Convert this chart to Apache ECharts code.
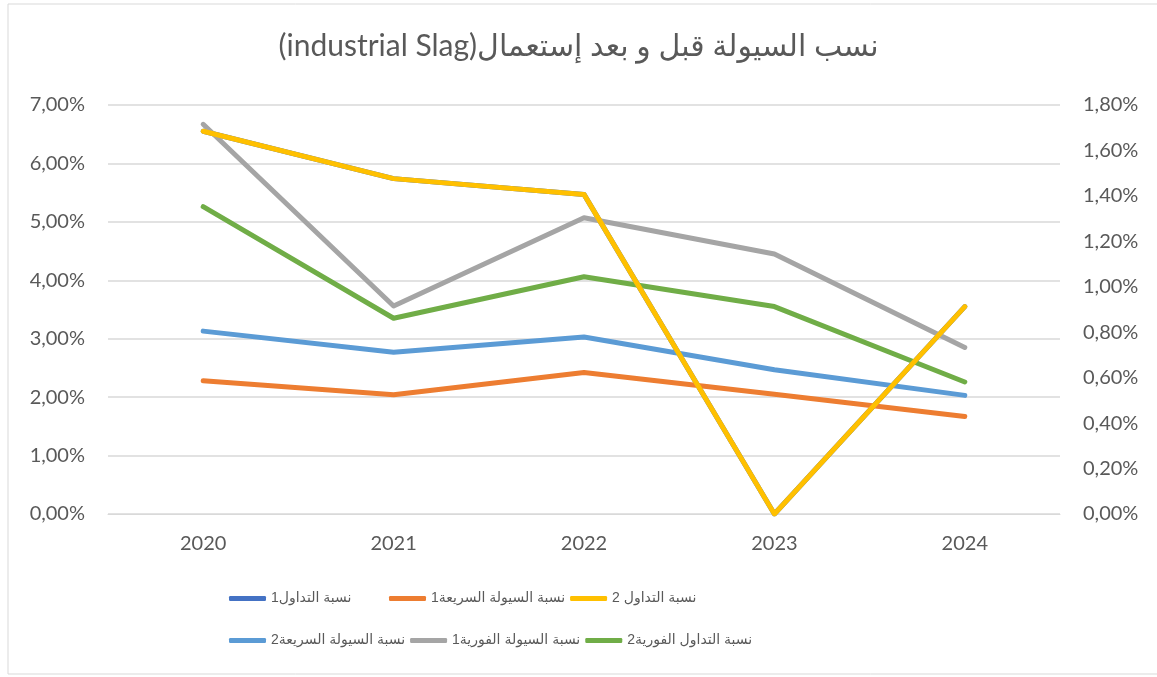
<!DOCTYPE html>
<html>
<head>
<meta charset="utf-8">
<script src="https://cdn.jsdelivr.net/npm/echarts@6/dist/echarts.min.js"></script>
<style>
  html, body { margin: 0; padding: 0; background: #fff; }
  #chart { width: 1157px; height: 677px; }
</style>
</head>
<body>
<div id="chart"></div>
<script>
// years on the x axis
const years = ["2020", "2021", "2022", "2023", "2024"];

// series values, in percent
const tadawul1 = [6.55, 5.74, 5.47, 0, 3.55];
const sareea1 = [2.28, 2.04, 2.42, 2.05, 1.67];
const tadawul2 = [6.55, 5.74, 5.47, 0, 3.55];
const sareea2 = [3.13, 2.77, 3.03, 2.47, 2.03];
const fawria1 = [6.67, 3.56, 5.07, 4.45, 2.85];
const tadawulFawria2 = [5.26, 3.35, 4.06, 3.55, 2.26];

// legend names (written in display order)
const names = [
    "1نسبة التداول",
    "1نسبة السيولة السريعة",
    "2 نسبة التداول",
    "2نسبة السيولة السريعة",
    "1نسبة السيولة الفورية",
    "2نسبة التداول الفورية",
];
const colors = ["#4472C4", "#ED7D31", "#FFC000", "#5B9BD5", "#A5A5A5", "#70AD47"];
const titleText = "(industrial Slag)نسب السيولة قبل و بعد إستعمال";

const FONT = "Lato, 'DejaVu Sans', sans-serif";
const GREY = "#595959";

const fmt = (v) => v.toFixed(2).replace(".", ",") + "%";

const values = [tadawul1, sareea1, tadawul2, sareea2, fawria1, tadawulFawria2];

const chart = echarts.init(document.getElementById("chart"), null, { renderer: "canvas" });

const series = values.map((d, i) => ({
    name: names[i],
    type: "line",
    data: d,
    yAxisIndex: 0,
    symbol: "none",
    showSymbol: false,
    z: i === 2 ? 5 : 2,
    color: colors[i],
    lineStyle: { width: 5, color: colors[i], cap: "round", join: "round" },
    emphasis: { disabled: true },
}));

chart.setOption({
    animation: false,
    textStyle: { fontFamily: FONT },
    graphic: [
        {
            type: "rect",
            shape: { x: 8, y: 4, width: 1160, height: 670 },
            style: { fill: "none", stroke: "#d9d9d9", lineWidth: 1 },
            silent: true,
        },
    ],
    title: {
        text: titleText,
        left: "center",
        top: 26,
        textStyle: { fontFamily: FONT, fontSize: 30, fontWeight: "normal", color: GREY },
    },
    grid: { left: 108, right: 97, top: 105, bottom: 163, containLabel: false },
    legend: {
        left: 224,
        top: 575,
        width: 540,
        itemWidth: 37,
        itemHeight: 5,
        itemGap: 5,
        icon: "roundRect",
        data: names,
        textStyle: {
            fontFamily: "'Liberation Sans', 'DejaVu Sans', sans-serif",
            fontSize: 14,
            color: GREY,
            width: 113,
            lineHeight: 37,
        },
    },
    xAxis: {
        type: "category",
        data: years,
        boundaryGap: true,
        axisLine: { show: true, lineStyle: { color: "#d9d9d9", width: 1 } },
        axisTick: { show: false },
        axisLabel: { color: GREY, fontSize: 20, margin: 20 },
    },
    yAxis: [
        {
            type: "value",
            min: 0,
            max: 7,
            interval: 1,
            axisLine: { show: false },
            axisTick: { show: false },
            splitLine: { lineStyle: { color: "#d9d9d9", width: 1.5 } },
            axisLabel: { color: GREY, fontSize: 20, margin: 23, formatter: fmt },
        },
        {
            type: "value",
            min: 0,
            max: 1.8,
            interval: 0.2,
            position: "right",
            axisLine: { show: false },
            axisTick: { show: false },
            splitLine: { show: false },
            axisLabel: { color: GREY, fontSize: 20, margin: 23, formatter: fmt },
        },
    ],
    series: series,
});
</script>
</body>
</html>
